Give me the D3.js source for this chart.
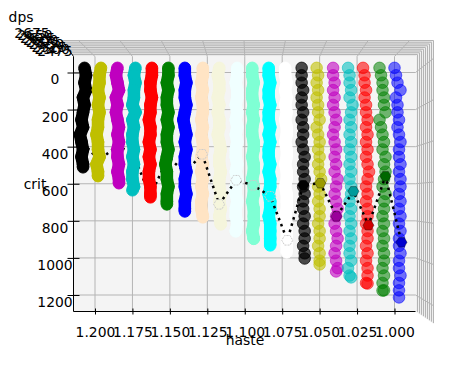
<!DOCTYPE html>
<html>
<head>
<meta charset="utf-8">
<script src="https://cdn.jsdelivr.net/npm/d3@7"></script>
<style>
body { margin: 0; background: #fff; }
text { font-family: "DejaVu Sans", sans-serif; font-size: 13.9px; fill: #000; }
</style>
</head>
<body>
<div id="chart"></div>
<script>
/* 3d scatter of dps by haste and crit, seen from above */

const hasteTicks = [1.2, 1.175, 1.15, 1.125, 1.1, 1.075, 1.05, 1.025, 1.0];
const critTicks = [0, 200, 400, 600, 800, 1000, 1200];
const dpsTicks = [2475, 2500, 2525, 2550, 2575, 2600, 2625, 2650, 2675];

const critGrid = [-25, 15, 55, 95, 135, 175, 215, 255, 295, 335, 375, 415, 455, 495, 535, 575,
    615, 655, 695, 735, 775, 815, 855, 895, 935, 975, 1015, 1055, 1095, 1135, 1175, 1215];
const critEnd = [511, 559, 597, 635, 673, 711, 749, 781, 819, 857, 897, 932, 970, 1003, 1035, 1073, 1105, 1138, 1176, 1213];

const h0 = [1.207,1.206,1.207,1.206,1.208,1.207,1.208,1.209,1.208,1.210,1.209,1.208,1.209,1.208,1.208];
const h1 = [1.196,1.197,1.197,1.198,1.197,1.198,1.197,1.198,1.198,1.199,1.198,1.198,1.197,1.199,1.198,1.198];
const h2 = [1.185,1.186,1.185,1.184,1.186,1.185,1.186,1.185,1.184,1.185,1.184,1.185,1.185,1.184,1.185,1.184,1.184];
const h3 = [1.173,1.174,1.173,1.174,1.174,1.175,1.173,1.175,1.174,1.175,1.175,1.174,1.175,1.174,1.175,1.175,1.174,1.175];
const h4 = [1.162,1.162,1.163,1.163,1.162,1.163,1.163,1.164,1.163,1.163,1.164,1.163,1.164,1.163,1.164,1.164,1.163,1.163,1.163];
const h5 = [1.151,1.151,1.152,1.151,1.152,1.152,1.151,1.152,1.151,1.152,1.152,1.151,1.152,1.153,1.152,1.152,1.151,1.152,1.152,1.152];
const h6 = [1.140,1.140,1.139,1.140,1.140,1.139,1.140,1.141,1.140,1.139,1.140,1.139,1.140,1.140,1.139,1.140,1.140,1.139,1.140,1.140,1.140];
const h7 = [1.128,1.128,1.129,1.128,1.129,1.128,1.128,1.129,1.128,1.129,1.128,1.128,1.129,1.128,1.129,1.128,1.129,1.128,1.129,1.129,1.128,1.128];
const h8 = [1.117,1.118,1.117,1.117,1.118,1.117,1.118,1.117,1.117,1.118,1.117,1.116,1.117,1.117,1.116,1.117,1.117,1.116,1.117,1.116,1.117,1.116,1.116];
const h9 = [1.105,1.105,1.106,1.105,1.105,1.106,1.105,1.106,1.105,1.106,1.105,1.106,1.106,1.105,1.106,1.105,1.106,1.106,1.105,1.106,1.106,1.105,1.106,1.106];
const h10 = [1.095,1.095,1.094,1.095,1.095,1.094,1.095,1.094,1.095,1.095,1.094,1.094,1.095,1.094,1.094,1.095,1.094,1.094,1.095,1.094,1.094,1.094,1.095,1.094,1.094];
const h11 = [1.084,1.084,1.083,1.084,1.084,1.083,1.084,1.084,1.083,1.084,1.083,1.084,1.084,1.083,1.084,1.083,1.083,1.084,1.083,1.083,1.084,1.083,1.083,1.083,1.083];
const h12 = [1.073,1.073,1.072,1.073,1.072,1.073,1.072,1.073,1.072,1.072,1.073,1.072,1.072,1.073,1.072,1.072,1.073,1.072,1.072,1.072,1.073,1.072,1.072,1.072,1.072,1.072];
const h13 = [1.062,1.062,1.062,1.061,1.062,1.062,1.061,1.062,1.061,1.061,1.062,1.061,1.060,1.061,1.061,1.060,1.061,1.060,1.061,1.061,1.060,1.061,1.060,1.060,1.061,1.060,1.060];
const h14 = [1.052,1.051,1.052,1.051,1.052,1.051,1.051,1.050,1.052,1.051,1.050,1.051,1.050,1.051,1.050,1.049,1.051,1.050,1.051,1.050,1.050,1.051,1.050,1.050,1.051,1.050,1.050,1.050];
const h15 = [1.041,1.041,1.040,1.041,1.040,1.041,1.040,1.039,1.040,1.041,1.040,1.039,1.040,1.039,1.040,1.038,1.039,1.040,1.039,1.038,1.039,1.040,1.039,1.038,1.039,1.040,1.039,1.038,1.039];
const h16 = [1.031,1.030,1.030,1.029,1.030,1.028,1.029,1.030,1.029,1.030,1.029,1.030,1.029,1.030,1.029,1.030,1.029,1.029,1.030,1.029,1.030,1.029,1.030,1.029,1.030,1.030,1.029,1.031,1.030,1.029];
const h17 = [1.021,1.020,1.020,1.019,1.020,1.019,1.019,1.018,1.019,1.018,1.019,1.018,1.019,1.018,1.017,1.018,1.019,1.018,1.019,1.018,1.018,1.019,1.018,1.018,1.019,1.018,1.019,1.018,1.018,1.019,1.018];
const h18 = [1.010,1.009,1.008,1.008,1.007,1.007,1.006,1.010,1.009,1.008,1.007,1.008,1.006,1.007,1.006,1.007,1.008,1.006,1.007,1.007,1.008,1.007,1.008,1.007,1.008,1.007,1.007,1.008,1.007,1.008,1.007,1.008];
const h19 = [1.000,0.999,0.998,0.996,0.999,0.998,0.998,0.997,0.998,0.997,0.996,0.997,0.997,0.996,0.997,0.996,0.996,0.997,0.996,0.997,0.996,0.997,0.996,0.997,0.997,0.996,0.997,0.997,0.996,0.997,0.997,0.997];
const hasteSeries = [h0, h1, h2, h3, h4, h5, h6, h7, h8, h9, h10, h11, h12, h13, h14, h15, h16, h17, h18, h19];

// the best point of every column, joined by the dotted line
const bestHaste = [1.208,1.1973,1.1853,1.1746,1.1632,1.1512,1.1398,1.1284,1.1171,1.1057,1.0943,1.0829,1.0716,1.0609,1.0495,1.0388,1.0274,1.0174,1.0060,0.9953];
const bestCrit = [381,473,397,435,668,457,538,441,711,581,608,668,905,608,597,776,641,824,559,916];

const colors = ["#000000","#bfbf00","#bf00bf","#00bfbf","#ff0000","#008000","#0000ff","#ffe4c4","#f5f5dc","#f0ffff",
    "#7fffd4","#00ffff","#ffffff","#000000","#bfbf00","#bf00bf","#00bfbf","#ff0000","#008000","#0000ff"];
const alphas = [1,1,1,1,1,1,1,1,1,1,1,1,1,.7,.6,.6,.58,.58,.55,.55];

const width = 451, height = 370;
const panel = {left: 73.5, right: 415.5, top: 56.5, bottom: 311.5};

const x = d3.scaleLinear().domain([1.2, 1.0]).range([95, 394.5]);
const y = d3.scaleLinear().domain([0, 1200]).range([72.5, 295]);
// same axes on the closer edge of the walls
const xOuter = d3.scaleLinear().domain([1.2, 1.0]).range([78, 410]);
const yOuter = d3.scaleLinear().domain([0, 1200]).range([58, 306]);
// dps runs towards the viewer, so it only shows on the walls
const zTop = d3.scaleLinear().domain([2475, 2675]).range([54.5, 40.5]);
const zRight = d3.scaleLinear().domain([2475, 2675]).range([417.5, 433.5]);
const zBottom = d3.scaleLinear().domain([2475, 2675]).range([312, 323]);
const zLeft = d3.scaleLinear().domain([2475, 2675]).range([72, 62]);
const zLabelX = d3.scaleLinear().domain([2475, 2675]).range([55, 32]);
const zLabelY = d3.scaleLinear().domain([2475, 2675]).range([56, 38]);

const svg = d3.select("#chart").append("svg")
    .attr("width", width)
    .attr("height", height)
    .style("display", "block");

const gridColor = "#b4b4b4";

// walls
svg.append("polygon")
    .attr("points", [[panel.left, panel.top], [62, 40], [434, 40], [panel.right, panel.top]].join(" "))
    .attr("fill", "#e8e8e8");
svg.append("polygon")
    .attr("points", [[panel.right, panel.top], [434, 40], [434, 324], [panel.right, panel.bottom]].join(" "))
    .attr("fill", "#efefef");
svg.append("rect")
    .attr("x", panel.left).attr("y", panel.top)
    .attr("width", panel.right - panel.left)
    .attr("height", panel.bottom - panel.top)
    .attr("fill", "#f4f4f4");

// grid
const grid = svg.append("g").attr("fill", "none").attr("stroke", gridColor);

grid.selectAll(".zgrid")
    .data(dpsTicks)
    .join("path")
    .attr("class", "zgrid")
    .attr("d", d => `M${zLeft(d)},${zTop(d)}H${zRight(d)}V${zBottom(d)}`);

grid.selectAll(".xgrid")
    .data(hasteTicks)
    .join("path")
    .attr("class", "xgrid")
    .attr("d", d => `M${x(d)},${panel.bottom}V${panel.top}L${xOuter(d)},40`);

grid.selectAll(".ygrid")
    .data(critTicks)
    .join("path")
    .attr("class", "ygrid")
    .attr("d", d => `M${panel.left},${y(d)}H${panel.right}L434,${yOuter(d)}`);

// axes
const xAxis = g => g
    .attr("transform", `translate(0,${panel.bottom})`)
    .call(d3.axisBottom(x).tickValues(hasteTicks).tickFormat(d3.format(".3f")).tickSize(3).tickPadding(13))
    .call(g => g.select(".domain").attr("d", `M${panel.left},0H${panel.right}`))
    .call(g => g.selectAll(".tick line").attr("y1", -3));

const yAxis = g => g
    .attr("transform", `translate(${panel.left},0)`)
    .call(d3.axisLeft(y).tickValues(critTicks).tickFormat(d3.format("d")).tickSize(6))
    .call(g => g.select(".domain").attr("d", `M0,${panel.top}V${panel.bottom}`))
    .call(g => g.selectAll(".tick line").attr("x2", -6).attr("x1", 6))
    .call(g => g.selectAll(".tick text")
        .attr("x", -18.5)
        .attr("y", 7)
        .attr("text-anchor", "middle"));

svg.append("g").call(xAxis).attr("font-family", null).attr("font-size", null);
svg.append("g").call(yAxis).attr("font-family", null).attr("font-size", null);

// z labels pile up on top of each other in this view
svg.append("path")
    .attr("d", `M${zLeft(2675)},${zTop(2675)}L${panel.left},${panel.top}`)
    .attr("stroke", "#000");
svg.selectAll(".zlabel")
    .data(dpsTicks)
    .join("text")
    .attr("class", "zlabel")
    .attr("x", d => zLabelX(d))
    .attr("y", d => zLabelY(d))
    .attr("text-anchor", "middle")
    .text(d => d);

svg.append("text").attr("x", 245).attr("y", 345).attr("text-anchor", "middle").text("haste");
svg.append("text").attr("x", 35).attr("y", 189).attr("text-anchor", "middle").text("crit");
svg.append("text").attr("x", 21).attr("y", 22).attr("text-anchor", "middle").text("dps");

const columns = hasteSeries.map((haste, k) => ({
    k,
    points: haste.map((h, i) => ({h, c: i === haste.length - 1 ? critEnd[k] : critGrid[i]}))
}));

function drawColumn(col) {
    const g = svg.append("g").attr("class", "column");
    // opaque columns read as one solid stroke
    if (alphas[col.k] === 1) {
        g.append("path")
            .datum(col.points)
            .attr("fill", "none")
            .attr("stroke", colors[col.k])
            .attr("stroke-width", 12.5)
            .attr("d", d3.line().x(d => x(d.h)).y(d => y(d.c)));
    }
    g.selectAll("circle")
        .data(col.points)
        .join("circle")
        .attr("cx", d => x(d.h))
        .attr("cy", d => y(d.c))
        .attr("r", 5.8)
        .attr("fill", colors[col.k])
        .attr("stroke", colors[col.k])
        .attr("fill-opacity", alphas[col.k])
        .attr("stroke-opacity", alphas[col.k]);
}

// right hand columns lie behind the line, the left hand ones in front of it
columns.slice(7).forEach(drawColumn);

const bestPoints = bestHaste.map((h, i) => ({h, c: bestCrit[i], k: i}));

svg.append("path")
    .datum(bestPoints)
    .attr("fill", "none")
    .attr("stroke", "#000")
    .attr("stroke-width", 2.5)
    .attr("stroke-dasharray", "2.5 4")
    .attr("d", d3.line().x(d => x(d.h)).y(d => y(d.c)));

const hexagon = d3.range(6).map(i => {
    const a = Math.PI / 3 * i;
    return [5.5 * Math.cos(a), 5.5 * Math.sin(a)];
});

svg.selectAll(".best")
    .data(bestPoints.slice(7))
    .join("polygon")
    .attr("class", "best")
    .attr("points", hexagon.join(" "))
    .attr("transform", d => `translate(${x(d.h)},${y(d.c)})`)
    .attr("fill", d => d.k < 13 ? colors[d.k] : d3.color(colors[d.k]).darker(.6))
    .attr("stroke", d => d.k < 13 ? "#ccc" : "#000")
    .attr("stroke-opacity", d => d.k < 13 ? 1 : .35)
    .attr("stroke-dasharray", d => d.k < 13 ? "2 1" : null);

columns.slice(0, 7).forEach(drawColumn);
</script>
</body>
</html>
